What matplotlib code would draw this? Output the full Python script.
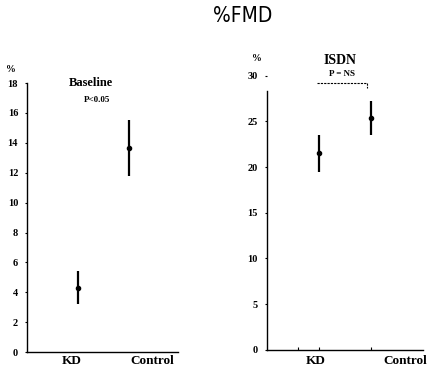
import matplotlib
matplotlib.use('Agg')
import matplotlib.pyplot as plt

groups = ['KD', 'Control']
baseline_mean = [4.3, 13.65]
baseline_err = [1.1, 1.85]
isdn_mean = [21.5, 25.4]
isdn_err = [2.05, 1.85]

baseline_ticks = [0, 2, 4, 6, 8, 10, 12, 14, 16, 18]
isdn_ticks = [0, 5, 10, 15, 20, 25, 30]

plt.rcParams['font.family'] = ['Liberation Serif', 'DejaVu Serif']
plt.rcParams['font.weight'] = 'bold'

fig = plt.figure(figsize=(4.3, 3.71), dpi=100)
fig.text(0.565, 0.958, '%FMD', ha='center', va='center', fontsize=15,
         family=['DejaVu Sans'], stretch='condensed', weight='normal')

# left panel: baseline
ax1 = fig.add_axes([0.063, 0.051, 0.351, 0.725])
pos = [1.01, 2.03]
ax1.errorbar(pos, baseline_mean, yerr=baseline_err, fmt='o', color='black',
             ms=3, elinewidth=1.6, capsize=0)
ax1.set_xlim(0, 3)
ax1.set_ylim(0, 18)
ax1.set_yticks(baseline_ticks)
ax1.set_yticklabels([str(t) for t in baseline_ticks], fontsize=7.5, weight='bold')
ax1.set_xticks([0.89, 2.48])
ax1.set_xticklabels(groups, fontsize=9.5, weight='bold')
ax1.tick_params(axis='x', length=0, pad=2)
ax1.tick_params(axis='y', length=1.5, width=0.8, pad=5)
for s in ['top', 'right']:
    ax1.spines[s].set_visible(False)
for s in ['left', 'bottom']:
    ax1.spines[s].set_linewidth(1.0)
ax1.text(-0.11, 1.035, '%', transform=ax1.transAxes, fontsize=7, ha='center', va='bottom')
ax1.text(1.27, 18.0, 'Baseline', fontsize=9, ha='center', va='center')
ax1.text(1.39, 16.9, 'P<0.05', fontsize=6.5, ha='center', va='center')

# right panel: ISDN
ax2 = fig.add_axes([0.621, 0.057, 0.363, 0.739])
pos2 = [1.0, 2.0]
ax2.errorbar(pos2, isdn_mean, yerr=isdn_err, fmt='o', color='black',
             ms=3, elinewidth=1.6, capsize=0)
ax2.set_xlim(0, 3)
ax2.set_ylim(0, 30)
ax2.spines['left'].set_bounds(0, 28.3)
ax2.set_yticks(isdn_ticks)
ax2.set_yticklabels([str(t) for t in isdn_ticks], fontsize=7.5, weight='bold')
ax2.set_xticks([0.6, 1.0, 2.0])
ax2.set_xticklabels(['', '', ''])
ax2.tick_params(axis='x', length=2, width=0.8, direction='in')
ax2.tick_params(axis='y', length=1.5, width=0.8, pad=5)
ax2.text(0.94, -0.6, groups[0], fontsize=9.5, ha='center', va='top')
ax2.text(2.65, -0.6, groups[1], fontsize=9.5, ha='center', va='top')
for s in ['top', 'right']:
    ax2.spines[s].set_visible(False)
for s in ['left', 'bottom']:
    ax2.spines[s].set_linewidth(1.0)
ax2.text(-0.065, 1.045, '%', transform=ax2.transAxes, fontsize=7, ha='center', va='bottom')
ax2.text(1.4, 31.7, 'ISDN', fontsize=10, ha='center', va='center')
ax2.text(1.45, 30.2, 'P = NS', fontsize=6.5, ha='center', va='center')
ax2.plot([0.96, 1.93, 1.93], [29.2, 29.2, 28.6], color='black', lw=0.8,
         ls=(0, (2, 1)), clip_on=False)

fig.savefig('out.png', dpi=100)
